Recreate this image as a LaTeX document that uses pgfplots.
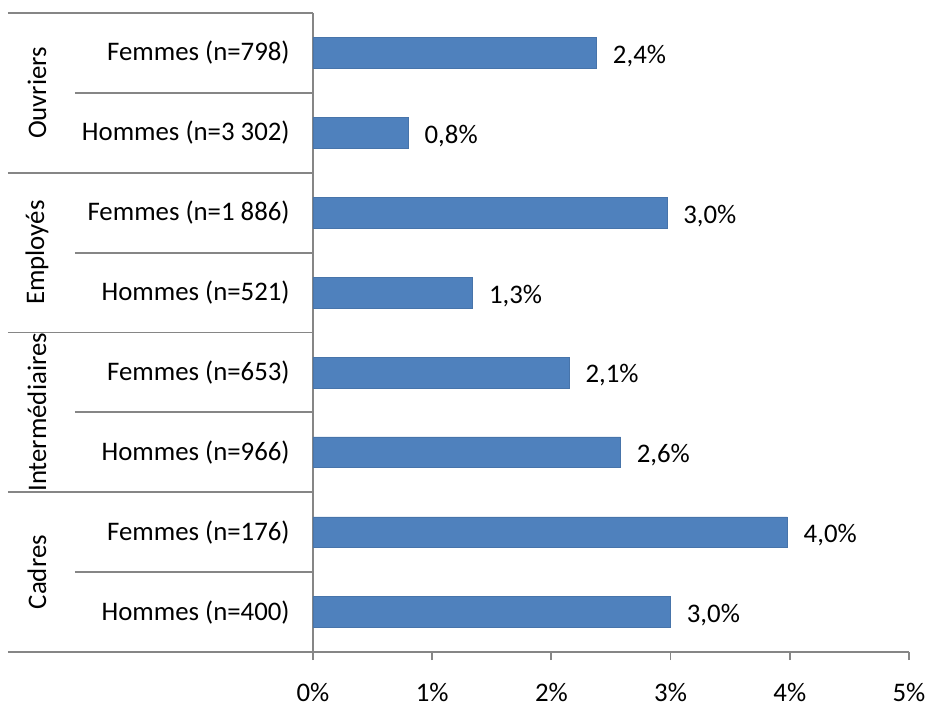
\documentclass[border=0pt]{standalone}
\usepackage{pgfplots}
\pgfplotsset{compat=1.18}
\usepackage{fontspec}
\setmainfont{Carlito}
\definecolor{barblue}{RGB}{79,129,189}
\definecolor{axgray}{RGB}{134,134,134}
\begin{document}
\fontsize{13.4}{16}\selectfont
\begin{tikzpicture}
\useasboundingbox (-156.5pt,-28.5pt) rectangle (309pt,326pt);
\begin{axis}[
  scale only axis,
  width=298pt, height=319.5pt,
  xmin=0, xmax=5, ymin=-0.5, ymax=7.5,
  axis lines*=left,
  axis line style={axgray, line width=0.9pt},
  xtick={0,1,2,3,4,5},
  xticklabels={0\%,1\%,2\%,3\%,4\%,5\%},
  x tick style={axgray, line width=0.9pt},
  major tick length=4pt,
  tick align=outside,
  xticklabel style={anchor=base, yshift=-20.5pt, inner sep=0pt},
  ytick={0,...,7},
  yticklabels={{Hommes (n=400)},{Femmes (n=176)},{Hommes (n=966)},{Femmes (n=653)},{Hommes (n=521)},{Femmes (n=1 886)},{Hommes (n=3 302)},{Femmes (n=798)}},
  y tick style={draw=none},
  yticklabel style={anchor=east, inner sep=0pt, xshift=-7.5pt},
  /pgf/number format/assume math mode=true,
  xbar, bar width=0.385,
  clip=false,
  nodes near coords={\pgfplotspointmeta\%},
  point meta=explicit symbolic,
  every node near coord/.append style={anchor=west, xshift=8pt, yshift=-1.5pt, black, inner sep=0pt},
]
\addplot[fill=barblue, draw=barblue!90!black, line width=0.3pt] table[x=v, y=c, meta=l] {
c v l
0 3.00 3,0
1 3.98 4,0
2 2.58 2,6
3 2.15 2,1
4 1.34 1,3
5 2.97 3,0
6 0.80 0,8
7 2.38 2,4
};
\draw[axgray, line width=0.9pt] ([xshift=-152.5pt]axis cs:0,-0.5) -- (axis cs:0,-0.5);
\draw[axgray, line width=0.9pt] ([xshift=-152.5pt]axis cs:0,1.5) -- (axis cs:0,1.5);
\draw[axgray, line width=0.9pt] ([xshift=-152.5pt]axis cs:0,3.5) -- (axis cs:0,3.5);
\draw[axgray, line width=0.9pt] ([xshift=-152.5pt]axis cs:0,5.5) -- (axis cs:0,5.5);
\draw[axgray, line width=0.9pt] ([xshift=-152.5pt]axis cs:0,7.5) -- (axis cs:0,7.5);
\draw[axgray, line width=0.9pt] ([xshift=-119pt]axis cs:0,0.5) -- (axis cs:0,0.5);
\draw[axgray, line width=0.9pt] ([xshift=-119pt]axis cs:0,2.5) -- (axis cs:0,2.5);
\draw[axgray, line width=0.9pt] ([xshift=-119pt]axis cs:0,4.5) -- (axis cs:0,4.5);
\draw[axgray, line width=0.9pt] ([xshift=-119pt]axis cs:0,6.5) -- (axis cs:0,6.5);
\node[rotate=90, inner sep=0pt] at ([xshift=-138pt]axis cs:0,6.5) {Ouvriers};
\node[rotate=90, inner sep=0pt] at ([xshift=-138pt]axis cs:0,4.5) {Employés};
\node[rotate=90, inner sep=0pt] at ([xshift=-138pt]axis cs:0,2.5) {Intermédiaires};
\node[rotate=90, inner sep=0pt] at ([xshift=-138pt]axis cs:0,0.5) {Cadres};
\end{axis}
\end{tikzpicture}
\end{document}
